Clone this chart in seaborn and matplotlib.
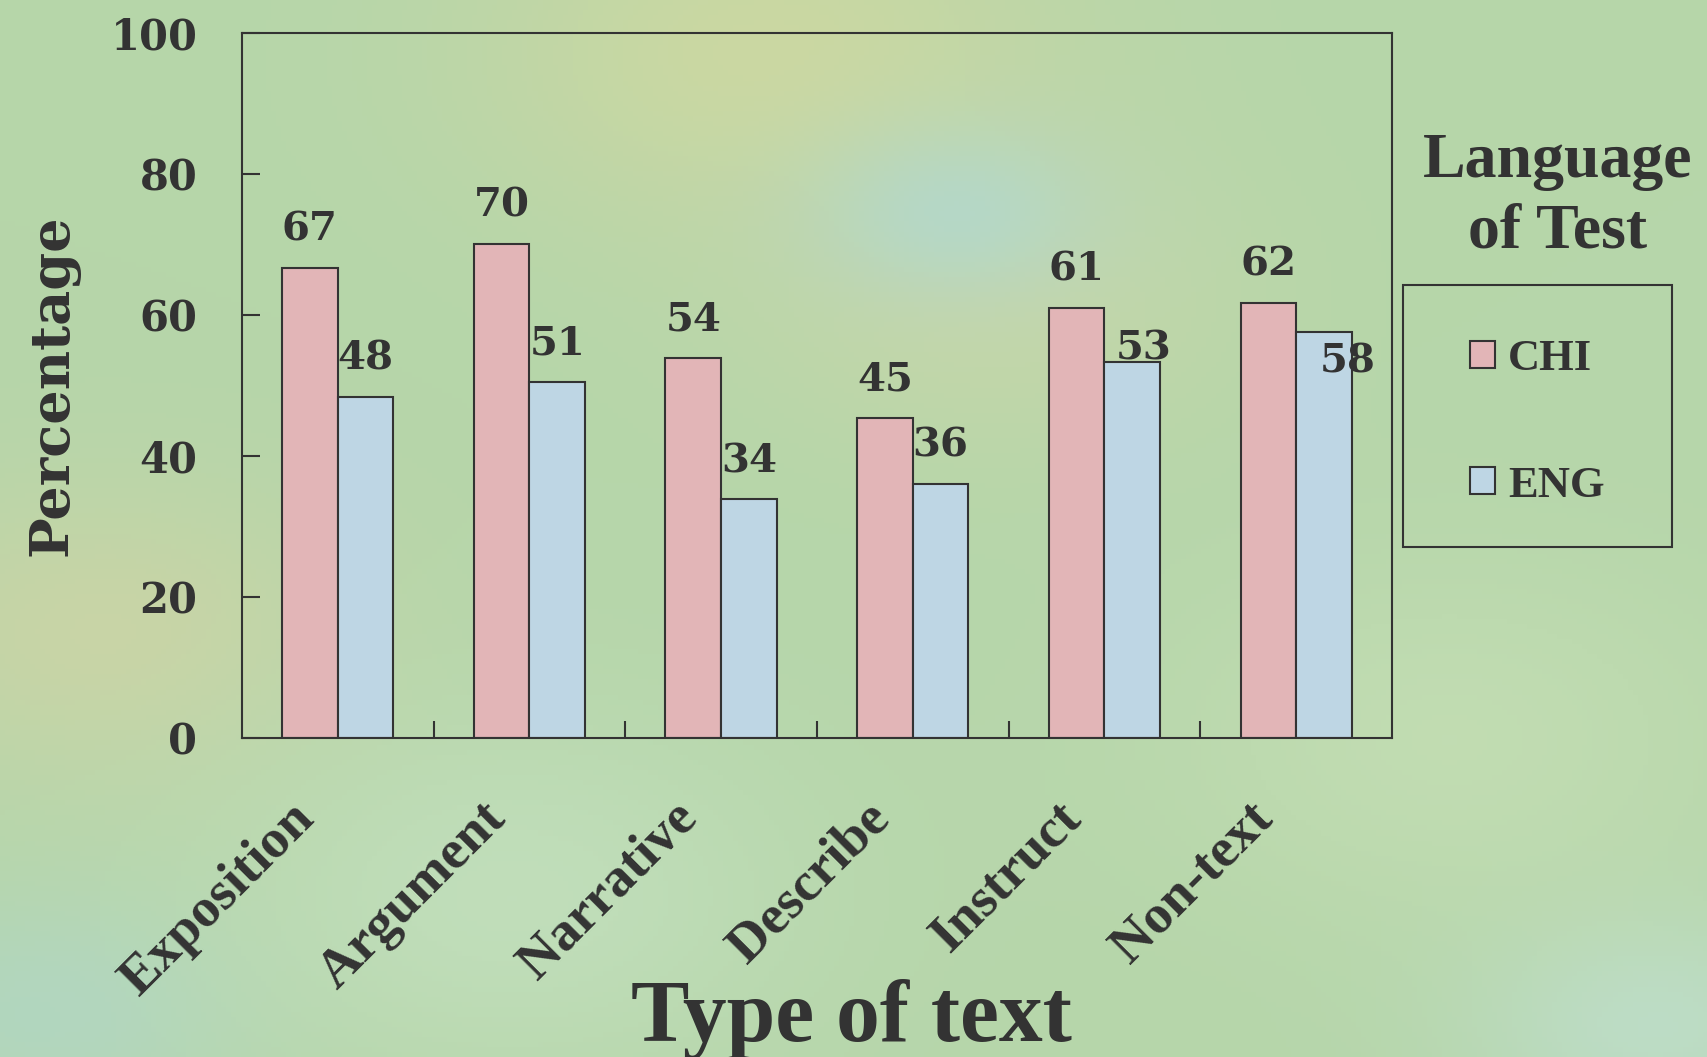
import numpy as np
import pandas as pd
import matplotlib
matplotlib.use("Agg")
import matplotlib.pyplot as plt
import matplotlib.transforms as mtransforms
from matplotlib.patches import Patch, Rectangle
import seaborn as sns

categories = ["Exposition", "Argument", "Narrative", "Describe", "Instruct", "Non-text"]
chi_values = [66.6, 70.0, 53.9, 45.3, 61.0, 61.7]
eng_values = [48.4, 50.5, 33.8, 36.0, 53.3, 57.6]
chi_labels = ["67", "70", "54", "45", "61", "62"]
eng_labels = ["48", "51", "34", "36", "53", "58"]
languages = ["CHI", "ENG"]
y_ticks = [0, 20, 40, 60, 80, 100]

INK = "#333333"
colors = {"CHI": "#e2b5b7", "ENG": "#bed6e4"}
num_font = dict(family="DejaVu Serif", weight="bold", color=INK)
txt_font = dict(family="Liberation Serif", weight="bold", color=INK)

df = pd.DataFrame({
    "Type": categories * 2,
    "Percentage": chi_values + eng_values,
    "Language": ["CHI"] * len(categories) + ["ENG"] * len(categories),
})

sns.set_style("ticks")
fig = plt.figure(figsize=(17.08, 10.57), dpi=100)

# soft mottled green backdrop
bg = fig.add_axes([0, 0, 1, 1], zorder=-10)
bg.axis("off")
gx, gy = np.meshgrid(np.linspace(0, 1, 340), np.linspace(0, 1, 210))
img = np.ones((210, 340, 3)) * np.array([182, 214, 170]) / 255
blobs = [
    (0.45, 0.05, 0.12, [208, 216, 160]),
    (0.06, 0.60, 0.10, [205, 212, 165]),
    (0.58, 0.28, 0.10, [200, 214, 168]),
    (0.56, 0.20, 0.06, [178, 216, 206]),
    (0.03, 0.96, 0.08, [176, 214, 196]),
    (0.97, 0.97, 0.08, [190, 222, 205]),
    (0.30, 0.85, 0.12, [195, 224, 190]),
    (0.85, 0.70, 0.12, [196, 222, 180]),
]
for cx, cy, s, c in blobs:
    w = np.exp(-((gx - cx) ** 2 + (gy - cy) ** 2) / (2 * s ** 2))[..., None] * 0.8
    img = img * (1 - w) + w * np.array(c) / 255
bg.imshow(img, aspect="auto", extent=[0, 1, 1, 0])
bg.set_xlim(0, 1)
bg.set_ylim(1, 0)

ax = fig.add_axes([0.1416, 0.302, 0.6734, 0.667])
ax.set_facecolor("none")
sns.barplot(data=df, x="Type", y="Percentage", hue="Language", hue_order=languages,
            palette=colors, width=0.58, gap=0, saturation=1,
            edgecolor=INK, linewidth=1.5, legend=False, ax=ax)

ax.set_ylim(0, 100)
ax.set_xlim(-0.5, len(categories) - 0.5)
for s in ax.spines.values():
    s.set_visible(True)
    s.set_color(INK)
    s.set_linewidth(1.5)

ax.set_yticks(y_ticks)
ax.set_yticklabels([str(t) for t in y_ticks], fontsize=30, **num_font)
ax.tick_params(axis="y", direction="in", length=13, width=1.5, color=INK, pad=32)
ax.set_xticks(np.arange(0.5, len(categories) - 0.5), minor=True)
ax.tick_params(axis="x", which="minor", direction="in", length=12, width=1.5, color=INK)
ax.tick_params(axis="x", which="major", length=0, pad=40)
ax.set_xticks(range(len(categories)))
ax.set_xticklabels(categories, fontsize=39.5, rotation=45, ha="right", va="top",
                   rotation_mode="anchor", **txt_font)
shift = mtransforms.ScaledTranslation(-35 / 72, 0, fig.dpi_scale_trans)
for lab in ax.get_xticklabels():
    lab.set_transform(lab.get_transform() + shift)

ax.set_ylabel("Percentage", fontsize=39, **num_font)
ax.yaxis.set_label_coords(-0.141, 0.5)
ax.set_xlabel("Type of text", fontsize=63, **txt_font)
ax.xaxis.label.set_va("baseline")
ax.xaxis.set_label_coords(0.53, -0.43)

for cont, labs in zip(ax.containers, [chi_labels, eng_labels]):
    anns = ax.bar_label(cont, labels=labs, padding=14, fontsize=29, **num_font)
    if labs is eng_labels:
        anns[4].xyann = (8, -4)
        anns[5].xyann = (17, -35)

# legend with its title above a separate frame
fig.text(0.912, 0.8134, "Language\nof Test", ha="center", va="center",
         fontsize=46, linespacing=1.29, **txt_font)
handles = [Patch(facecolor=colors[k], edgecolor=INK, linewidth=1.5) for k in languages]
leg = ax.legend(handles, languages, loc="center", bbox_to_anchor=(0.9002, 0.6005),
                bbox_transform=fig.transFigure, frameon=False, handlelength=0.55,
                handleheight=0.55, labelspacing=1.95, handletextpad=0.3,
                prop=dict(family="Liberation Serif", weight="bold", size=32))
for t in leg.get_texts():
    t.set_color(INK)
fig.add_artist(Rectangle((0.8214, 0.4825), 0.1576, 0.2474, transform=fig.transFigure,
                         fill=False, edgecolor=INK, linewidth=1.5))

fig.savefig("out.png", dpi=100)
